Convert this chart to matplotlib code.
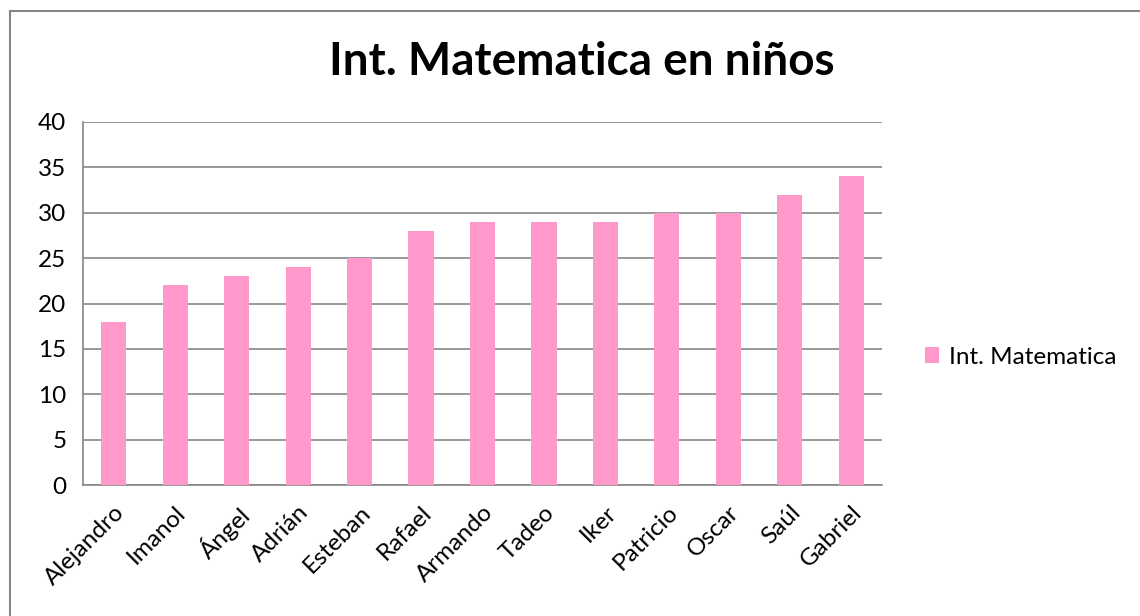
import numpy as np
import matplotlib.pyplot as plt
from matplotlib.lines import Line2D

plt.rcParams['font.family'] = ['Lato', 'DejaVu Sans']

nombres = ['Alejandro', 'Imanol', 'Ángel', 'Adrián', 'Esteban', 'Rafael', 'Armando',
           'Tadeo', 'Iker', 'Patricio', 'Oscar', 'Saúl', 'Gabriel']
valores = [18, 22, 23, 24, 25, 28, 29, 29, 29, 30, 30, 32, 34]
serie = 'Int. Matematica'
titulo = 'Int. Matematica en niños'
yticks = np.arange(0, 41, 5)

rosa = '#FF99CC'
gris = '#868686'

fig = plt.figure(figsize=(11.4, 6.16), dpi=100)
ax = fig.add_axes([83/1140, 1-485/616, (882-83)/1140, (485-122)/616])

x = np.arange(len(nombres))
ax.bar(x, valores, width=0.41, color=rosa, zorder=3, label=serie)
ax.set_xlim(-0.5, len(nombres)-0.5)
ax.set_ylim(0, 40)
ax.set_yticks(yticks)
ax.yaxis.grid(True, color=gris, lw=1.2, zorder=0)
for s in ['top', 'right']:
    ax.spines[s].set_visible(False)
for s in ['left', 'bottom']:
    ax.spines[s].set_color(gris)
    ax.spines[s].set_linewidth(1.2)
ax.tick_params(axis='y', length=0, labelsize=17.5, pad=12)
ax.tick_params(axis='x', length=0, labelsize=17.5, pad=12)
ax.set_xticks(x)
ax.set_xticklabels(nombres, rotation=45, ha='right', rotation_mode='anchor')

fig.text(582/1140, 1-62/616, titulo, ha='center', va='center', fontsize=33, fontweight='bold')
fig.legend(loc='center left', bbox_to_anchor=(903/1140, 1-357/616), frameon=False,
           fontsize=17.5, handlelength=0.6, handleheight=0.6, handletextpad=0.4)

# borde del grafico
fig.add_artist(Line2D([9.5/1140, 9.5/1140], [0, 1-10.5/616], color=gris, lw=1.5))
fig.add_artist(Line2D([9.5/1140, 1], [1-10.5/616, 1-10.5/616], color=gris, lw=1.5))

fig.savefig('out.png', dpi=100)
